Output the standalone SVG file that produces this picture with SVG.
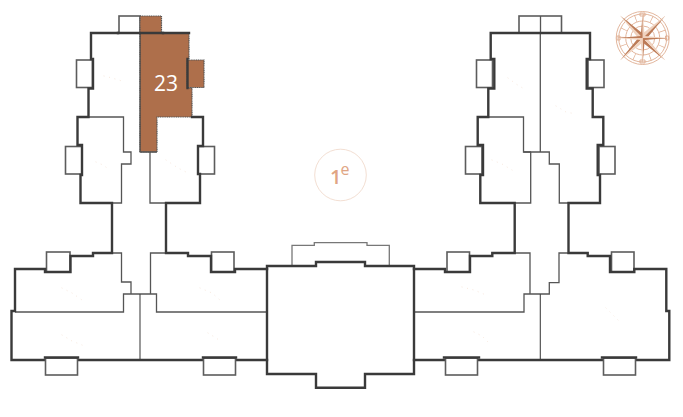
<svg xmlns="http://www.w3.org/2000/svg" width="683" height="417" viewBox="0 0 683 417">
<style>
.k{fill:none;stroke:#3a3a3a;stroke-width:2.4;stroke-linecap:square}
.t{fill:none;stroke:#555;stroke-width:1.3}
.h{fill:none;stroke:#444;stroke-width:1.1}
.w{fill:#fff;stroke:#5c5c5c;stroke-width:1.6}
.b{fill:#ae6f4b;stroke:#555;stroke-width:1.2;stroke-dasharray:1.2 .6}
.c{fill:none;stroke:#dfae92;stroke-width:.9}
.dk{fill:#bd7c58}
.lt{fill:#f0d2be}
.d{fill:none;stroke:#f7e6da;stroke-width:1;stroke-linecap:round;stroke-dasharray:.1 5.5}
</style>
<rect width="683" height="417" fill="#fff"/>
<g id="windows">
<rect class="w" x="119" y="16" width="21" height="17"/>
<rect class="w" x="76.5" y="60" width="16" height="27.500"/>
<rect class="w" x="65.500" y="146.500" width="16.500" height="27.500"/>
<rect class="w" x="198" y="146.500" width="16.500" height="27.500"/>
<rect class="w" x="46.500" y="252" width="23.500" height="20"/>
<rect class="w" x="211.500" y="252" width="22.500" height="20"/>
<rect class="w" x="519" y="16" width="42.500" height="17"/>
<rect class="w" x="476.500" y="60" width="16" height="27.500"/>
<rect class="w" x="465.500" y="146.500" width="16.500" height="27.500"/>
<rect class="w" x="588" y="60" width="16" height="27.500"/>
<rect class="w" x="599" y="146.500" width="16" height="27.500"/>
<rect class="w" x="447" y="252" width="22.500" height="20"/>
<rect class="w" x="611.500" y="252" width="22.500" height="20"/>
</g>
<g id="unit-23">
<rect class="b" x="140" y="16" width="21.500" height="17"/>
<rect class="b" x="187" y="60" width="17" height="27.500"/>
<path class="b" d="M140 33H189V59H187V88H192V117H157V152H140Z"/>
<text x="166" y="90.500" font-family="'Open Sans','Noto Sans',sans-serif" font-size="21" fill="#fff" text-anchor="middle">23</text>
</g>
<g id="thin-walls">
<path class="h" d="M140 33V152"/>
<path class="t" d="M88.500 117H123.500V152H131V164H121.500V203H112"/>
<path class="t" d="M150 152V203H166M140 152H157"/>
<path class="t" d="M112 253H121.500V282H131V294"/>
<path class="t" d="M15 312H123.500V294H156.500V312H267"/>
<path class="t" d="M166 253H150.500V294"/>
<path class="h" d="M140 294V360"/>
<path class="t" d="M488.500 117H523.500V152H549.300V164H559.300V203H568.500"/>
<path class="t" d="M530.700 152V203H514.700"/>
<path class="t" d="M540.300 33V152M523.500 152H531"/>
<path class="t" d="M514.700 253H530V294"/>
<path class="t" d="M414 312H524V294H549.300V282.700H559V253H568.500"/>
<path class="h" d="M540.300 294V360"/>
<path class="t" stroke-opacity=".8" d="M292 265V245.300H314.300V242.700H367V245.300H389.300V265"/>
<path class="t" d="M540.500 16V33"/>
</g>
<g id="outer-walls">
<path class="k" d="M118 33H91V59H93V88.500H88.500V117H77.500V145H82V175H80.500V203H112V253H93V256H70.500V272H45V269H15V311H11.500V360H267"/>
<path class="k" d="M118 33H163"/>
<path class="k" d="M163 33H189M187.500 59V88M192 117H203V146H198V174H200V203H166V253H188V256H211V272H235V269H267"/>
<path class="k" d="M267 266H316V262H365V266H414V374H365V387.700H316V374H267Z"/>
<path class="k" d="M414 269H445V272H470V256H492.300V253H514.700V203H480.300V175H483V145H477.700V117H488.300V88.500H494.300V59H490.700V33H590V59H586.700V88.500H592.700V117H603.300V145H597.700V175H600V203H568.500V253H587.700V256H610V272H634.300V269H666.300V311H669.300V360H414"/>
</g>
<g id="bottom-windows">
<rect class="w" x="45.500" y="358" width="32" height="17"/>
<rect class="w" x="203.500" y="358" width="32" height="17"/>
<rect class="w" x="445.500" y="358" width="32" height="17"/>
<rect class="w" x="603.500" y="358" width="32" height="17"/>
<path class="k" d="M45 357.500H78M203 357.500H236M444 357.500H479M602 357.500H636"/>
</g>
<g id="floor-badge">
<circle cx="340.500" cy="175" r="25.800" fill="#fff" stroke="#f3dfd3" stroke-width="1"/>
<text x="330" y="184" font-family="'Open Sans','Noto Sans',sans-serif" font-size="20" font-weight="600" fill="#e0a584">1</text>
<text x="340.500" y="175" font-family="'Open Sans','Noto Sans',sans-serif" font-size="16" fill="#e0a584">e</text>
</g>
<g id="compass">
<circle class="c" cx="642.700" cy="38" r="26.500"/>
<circle class="c" cx="642.700" cy="38" r="24"/>
<circle class="c" cx="642.700" cy="38" r="17"/>
<circle class="c" cx="642.700" cy="38" r="12"/>
<circle cx="642.700" cy="38" r="20.500" fill="none" stroke="#dfae92" stroke-width="7" stroke-dasharray=".7 7.350"/>
<path class="dk" d="M620 15.500L642.700 33.500V38ZM665.500 15.500L647.200 38H642.700ZM665.500 60.500L642.700 42.500V38ZM620 60.500L638.200 38H642.700Z"/>
<path class="lt" d="M620 15.500L638.200 38H642.700ZM665.500 15.500L642.700 33.500V38ZM665.500 60.500L647.200 38H642.700ZM620 60.500L642.700 42.500V38Z"/>
<path class="dk" d="M642.700 13L640.700 36L642.700 38ZM668 38L644.700 40L642.700 38ZM642.700 63L644.700 40L642.700 38ZM617.500 38L640.700 36L642.700 38Z"/>
<path class="lt" d="M642.700 13L644.700 36L642.700 38ZM668 38L644.700 36L642.700 38ZM642.700 63L640.700 40L642.700 38ZM617.500 38L640.700 40L642.700 38Z"/>
<path class="c" stroke-width="1.100" d="M640 13h5v3h-5zM640 60h5v3h-5zM617 36h3v4h-3zM665.500 36h3v4h-3z"/>
</g>
<g id="faint-marks">
<path class="d" d="M104 76L112 78L122 81M96 162L103 165L110 170M166 160L178 168L186 172M62 288L72 293L82 300M200 288L212 293L220 300M62 335L72 341L82 345M208 333L216 338L222 342M508 78L516 84L526 90M556 106L566 112L576 114M492 160L502 164L512 170M462 287L474 290L486 295M474 332L482 336L488 342M606 308L612 314L618 320"/>
</g>
</svg>
